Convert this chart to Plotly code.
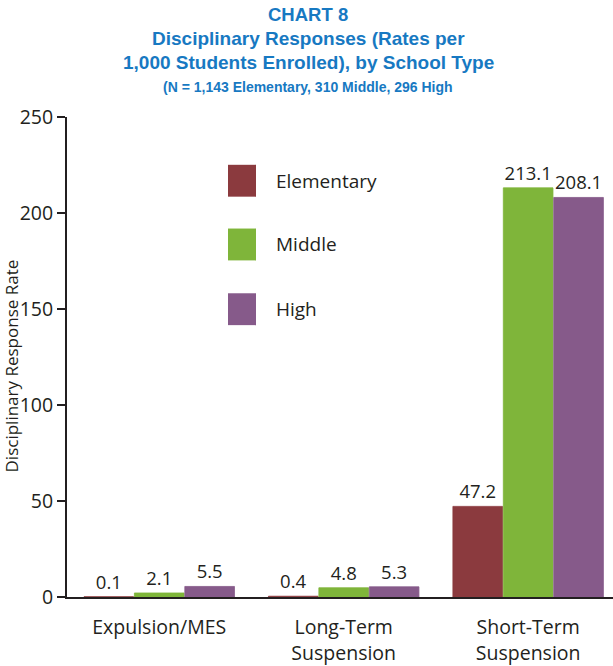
import plotly.graph_objects as go

categories = ["Expulsion/MES", "Long-Term<br>Suspension", "Short-Term<br>Suspension"]
series_names = ["Elementary", "Middle", "High"]
elementary = [0.1, 0.4, 47.2]
middle = [2.1, 4.8, 213.1]
high = [5.5, 5.3, 208.1]
colors = ["#8B3A3E", "#7FB53A", "#865A8A"]
y_ticks = [0, 50, 100, 150, 200, 250]

W, H = 613, 666
ML, MR, MT, MB = 67, 0, 117, 67
body_font = "Open Sans, Liberation Sans, sans-serif"
title_font = "Liberation Sans, Arial, sans-serif"
blue = "#1779C2"

fig = go.Figure()
for name, vals, col in zip(series_names, [elementary, middle, high], colors):
    fig.add_trace(go.Bar(
        x=categories, y=vals, name=name,
        marker=dict(color=col, line=dict(width=0.8, color=col)),
        text=[f"{v:.1f}" for v in vals], textposition="outside",
        textfont=dict(family=body_font, size=18.5, color="#231F20"),
        cliponaxis=False, showlegend=False,
    ))

pw = W - ML - MR
ph = H - MT - MB
def px_x(x):
    return (x - ML) / pw
def px_y(y):
    return (H - MB - y) / ph

shapes = []
annotations = []
# custom legend
leg_y = [181, 245, 310]
for name, col, yc in zip(series_names, colors, leg_y):
    shapes.append(dict(type="rect", xref="paper", yref="paper",
                       x0=px_x(228), x1=px_x(256), y0=px_y(yc - 16), y1=px_y(yc + 16),
                       fillcolor=col, line=dict(width=0)))
    annotations.append(dict(xref="paper", yref="paper", x=px_x(274), y=px_y(yc),
                            xanchor="left", yanchor="middle", text=name, showarrow=False,
                            font=dict(family=body_font, size=19, color="#231F20")))

# titles
titles = [("<b>CHART 8</b>", 14, 18.5), ("<b>Disciplinary Responses (Rates per</b>", 38, 19),
          ("<b>1,000 Students Enrolled), by School Type</b>", 62, 19),
          ("<b>(N = 1,143 Elementary, 310 Middle, 296 High</b>", 87, 14)]
for t, yc, sz in titles:
    annotations.append(dict(xref="paper", yref="paper", x=px_x(308), y=px_y(yc),
                            xanchor="center", yanchor="middle", text=t, showarrow=False,
                            font=dict(family=title_font, size=sz, color=blue)))

# y-axis title
annotations.append(dict(xref="paper", yref="paper", x=px_x(11.5), y=px_y(367),
                        xanchor="center", yanchor="middle", text="Disciplinary Response Rate",
                        textangle=-90, showarrow=False,
                        font=dict(family=body_font, size=17, color="#231F20")))

fig.update_layout(
    width=W, height=H,
    margin=dict(l=ML, r=MR, t=MT, b=MB, pad=0),
    paper_bgcolor="white", plot_bgcolor="white",
    barmode="group", bargap=0.18, bargroupgap=0.015,
    shapes=shapes, annotations=annotations,
    showlegend=False,
)
fig.update_xaxes(
    range=[-0.5, 2.46], showgrid=False, showline=True, linecolor="#231F20", linewidth=2,
    ticks="", ticklabelstandoff=12,
    tickfont=dict(family=body_font, size=19.5, color="#231F20"),
)
fig.update_yaxes(
    range=[0, 250], tickvals=y_ticks, showgrid=False, zeroline=False,
    showline=True, linecolor="#231F20", linewidth=2,
    ticks="outside", ticklen=8, tickwidth=2, tickcolor="#231F20",
    tickfont=dict(family=body_font, size=19.5, color="#231F20"),
)

fig.write_html("out.html")
